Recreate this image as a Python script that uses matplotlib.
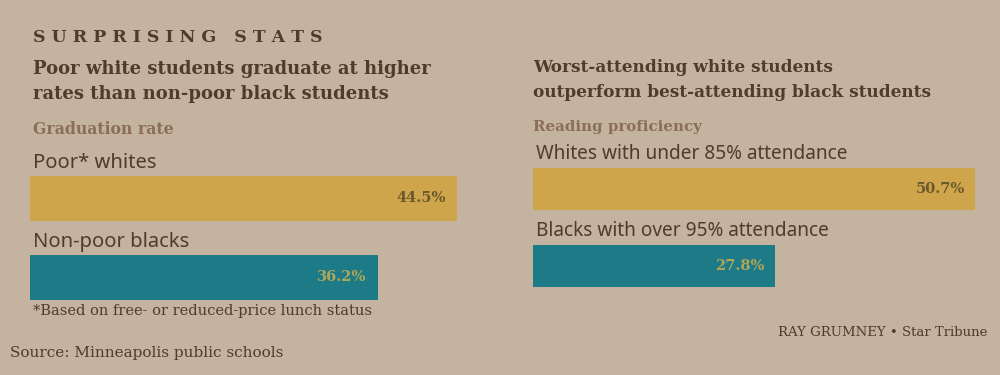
"""
Recria o gráfico "Surprising stats" (Star Tribune) com dois painéis de barras.
"""

import matplotlib.pyplot as plt

# Dados
GRAD_LABELS = ["Poor* whites", "Non-poor blacks"]
GRAD_VALUES = [44.5, 36.2]

READ_LABELS = ["Whites with under 85% attendance", "Blacks with over 95% attendance"]
READ_VALUES = [50.7, 27.8]

# Paleta (papel de jornal)
BG = "#c3b39f"
GOLD = "#cfa54b"
TEAL = "#1d7a87"
TEXT = "#4f3c2b"
TEXT_MUTED = "#8a6e57"
VALUE_ON_GOLD = "#6a5a2c"
VALUE_ON_TEAL = "#b0a65a"

SERIF = "DejaVu Serif"
SANS = "Noto Sans"


def draw_bars(ax, labels, values, xmax, ylim, height, label_size):
    ax.set_facecolor("none")
    colors = [GOLD, TEAL]
    ax.barh(range(len(values)), values, height=height, color=colors, left=0)
    for i, (lab, val) in enumerate(zip(labels, values)):
        ax.text(0.3, i - 0.45, lab, family=SANS, fontsize=label_size, color=TEXT,
                va="center", ha="left")
        ax.text(val - 1.2, i, f"{val:.1f}%", family=SERIF, fontsize=10.5,
                fontweight="bold", va="center", ha="right",
                color=VALUE_ON_GOLD if i == 0 else VALUE_ON_TEAL)
    ax.set_xlim(0, xmax)
    ax.set_ylim(*ylim)
    ax.axis("off")


fig = plt.figure(figsize=(10, 3.75), dpi=100, facecolor=BG)

# painel esquerdo: graduação
ax1 = fig.add_axes([0.030, (375 - 317) / 375, 0.460, 166 / 375])
draw_bars(ax1, GRAD_LABELS, GRAD_VALUES, 460 / 9.6, (1.5, -0.6), 0.57, 14.5)

# painel direito: leitura
ax2 = fig.add_axes([0.533, (375 - 304.5) / 375, 0.457, 161.7 / 375])
draw_bars(ax2, READ_LABELS, READ_VALUES, 457 / 8.72, (1.5, -0.6), 0.55, 13.7)

# textos
fig.text(0.033, 1 - 38 / 375, "S U R P R I S I N G   S T A T S", family=SERIF,
         fontsize=12.5, fontweight="bold", color=TEXT, va="center")

fig.text(0.033, 1 - 81.5 / 375,
         "Poor white students graduate at higher\nrates than non-poor black students",
         family=SERIF, fontsize=13, fontweight="bold", color=TEXT,
         va="center", linespacing=1.5)
fig.text(0.533, 1 - 80 / 375,
         "Worst-attending white students\noutperform best-attending black students",
         family=SERIF, fontsize=12.2, fontweight="bold", color=TEXT,
         va="center", linespacing=1.55)

fig.text(0.033, 1 - 130 / 375, "Graduation rate", family=SERIF, fontsize=11.3,
         fontweight="bold", color=TEXT_MUTED, va="center")
fig.text(0.533, 1 - 127 / 375, "Reading proficiency", family=SERIF, fontsize=10.8,
         fontweight="bold", color=TEXT_MUTED, va="center")

fig.text(0.033, 1 - 311 / 375, "*Based on free- or reduced-price lunch status",
         family=SERIF, fontsize=10.5, color=TEXT, va="center")
fig.text(0.010, 1 - 353 / 375, "Source: Minneapolis public schools",
         family=SERIF, fontsize=11, color=TEXT, va="center")
fig.text(0.987, 1 - 333 / 375, "RAY GRUMNEY \u2022 Star Tribune",
         family=SERIF, fontsize=9.5, color=TEXT, va="center", ha="right")

fig.savefig("out.png", dpi=100, facecolor=BG)
